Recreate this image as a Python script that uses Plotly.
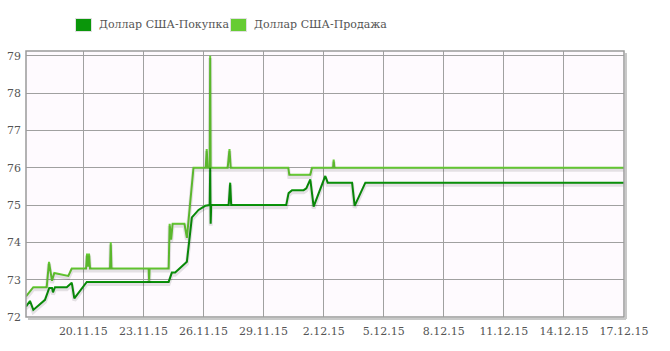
import plotly.graph_objects as go

# ---- data ----
buy_dates = [
    "2015-11-17 03:15", "2015-11-17 08:00", "2015-11-17 12:00", "2015-11-18 02:00",
    "2015-11-18 07:10", "2015-11-18 10:25", "2015-11-18 11:35", "2015-11-18 14:00",
    "2015-11-19 04:05", "2015-11-19 10:05", "2015-11-19 13:10", "2015-11-20 04:05",
    "2015-11-24 06:15", "2015-11-24 10:05", "2015-11-24 14:00", "2015-11-25 04:05",
    "2015-11-25 10:05", "2015-11-25 18:00", "2015-11-26 02:00", "2015-11-26 07:25",
    "2015-11-26 08:00", "2015-11-26 08:35", "2015-11-26 09:15", "2015-11-27 06:10",
    "2015-11-27 08:00", "2015-11-27 09:10", "2015-11-30 03:10", "2015-11-30 06:00",
    "2015-11-30 10:05", "2015-12-01 00:00", "2015-12-01 03:15", "2015-12-01 08:00",
    "2015-12-01 12:00", "2015-12-02 02:00", "2015-12-02 04:50", "2015-12-03 10:05",
    "2015-12-03 13:10", "2015-12-04 02:00", "2015-12-17 00:00",
]
buy_values = [
    72.28, 72.43, 72.19, 72.46,
    72.78, 72.78, 72.66, 72.80,
    72.80, 72.92, 72.50, 72.94,
    72.94, 73.19, 73.19, 73.48,
    74.67, 74.87, 74.98, 75.00,
    76.00, 74.50, 75.00, 75.00,
    75.60, 75.00, 75.00, 75.32,
    75.40, 75.40, 75.45, 75.69,
    74.96, 75.78, 75.60, 75.60,
    74.98, 75.60, 75.60,
]

sell_dates = [
    "2015-11-17 03:15", "2015-11-17 12:00", "2015-11-18 04:05", "2015-11-18 06:50",
    "2015-11-18 10:25", "2015-11-18 13:10", "2015-11-19 06:00", "2015-11-19 10:05",
    "2015-11-20 03:15", "2015-11-20 04:25", "2015-11-20 05:35", "2015-11-20 06:50",
    "2015-11-20 08:00", "2015-11-21 08:00", "2015-11-21 08:50", "2015-11-21 09:40",
    "2015-11-23 06:10", "2015-11-23 06:50", "2015-11-23 07:25", "2015-11-24 06:15",
    "2015-11-24 07:25", "2015-11-24 09:15", "2015-11-24 11:00", "2015-11-25 01:10",
    "2015-11-25 04:05", "2015-11-25 05:35", "2015-11-25 12:00", "2015-11-26 02:40",
    "2015-11-26 03:50", "2015-11-26 05:00", "2015-11-26 07:25", "2015-11-26 08:00",
    "2015-11-26 08:35", "2015-11-27 05:00", "2015-11-27 07:10", "2015-11-27 08:35",
    "2015-11-30 05:35", "2015-11-30 06:50", "2015-12-01 08:00", "2015-12-01 10:05",
    "2015-12-02 11:20", "2015-12-02 12:00", "2015-12-02 12:50", "2015-12-17 00:00",
]
sell_values = [
    72.55, 72.80, 72.80, 73.48,
    72.97, 73.18, 73.10, 73.30,
    73.30, 73.70, 73.35, 73.70,
    73.30, 73.30, 74.00, 73.30,
    73.30, 72.97, 73.30, 73.30,
    74.50, 74.07, 74.50, 74.50,
    74.12, 74.50, 76.00, 76.00,
    76.50, 76.00, 76.00, 79.00,
    76.00, 76.00, 76.50, 76.00,
    76.00, 75.81, 75.81, 76.00,
    76.00, 76.22, 76.00, 76.00,
]

tick_dates = ["2015-11-20", "2015-11-23", "2015-11-26", "2015-11-29", "2015-12-02",
              "2015-12-05", "2015-12-08", "2015-12-11", "2015-12-14", "2015-12-17"]
tick_labels = ["20.11.15", "23.11.15", "26.11.15", "29.11.15", "2.12.15",
               "5.12.15", "8.12.15", "11.12.15", "14.12.15", "17.12.15"]
y_ticks = [72, 73, 74, 75, 76, 77, 78, 79]

series_names = ["Доллар США-Покупка", "Доллар США-Продажа"]
buy_color = "#0a960a"
sell_color = "#66cc33"

x_range = ["2015-11-17 03:15", "2015-12-17 00:00"]
y_range = [72, 79.13]
shadow_shift = 0.055

# plot-area geometry in pixels
W, H = 670, 351
PL, PR, PT, PB = 26, 624, 51, 317


def px_x(p):
    return (p - PL) / (PR - PL)


def px_y(p):
    return (PB - p) / (PB - PT)


fig = go.Figure()

# shadows (drawn on an overlaying axis shifted slightly down)
for d, v in ((sell_dates, sell_values), (buy_dates, buy_values)):
    fig.add_trace(go.Scatter(x=d, y=v, mode="lines", yaxis="y2",
                             line=dict(color="rgba(0,0,0,0.10)", width=4),
                             showlegend=False, hoverinfo="skip"))

fig.add_trace(go.Scatter(x=sell_dates, y=sell_values, mode="lines",
                         line=dict(color=sell_color, width=2), showlegend=False))
fig.add_trace(go.Scatter(x=buy_dates, y=buy_values, mode="lines",
                         line=dict(color=buy_color, width=2), showlegend=False))

font_family = "DejaVu Serif"
text_color = "#545454"

# manual legend (box + label)
legend_boxes = [(76, 91), (231, 246)]
legend_text_x = [97, 252]
shapes = []
annotations = []
for (bx0, bx1), tx, name, col in zip(legend_boxes, legend_text_x, series_names,
                                     (buy_color, sell_color)):
    shapes.append(dict(type="rect", xref="paper", yref="paper",
                       x0=px_x(bx0 - 1), x1=px_x(bx1 + 1), y0=px_y(32), y1=px_y(18),
                       line=dict(width=0), fillcolor="#e0e0e0", layer="above"))
    shapes.append(dict(type="rect", xref="paper", yref="paper",
                       x0=px_x(bx0), x1=px_x(bx1), y0=px_y(31), y1=px_y(19),
                       line=dict(width=0), fillcolor=col, layer="above"))
    annotations.append(dict(text=name, xref="paper", yref="paper", x=px_x(tx), y=px_y(25),
                            xanchor="left", yanchor="middle", showarrow=False,
                            font=dict(family=font_family, size=11, color=text_color)))

# frame
shapes += [
    dict(type="rect", xref="paper", yref="paper", x0=0, x1=1, y0=0, y1=1,
         line=dict(color="#9a9a9a", width=1.5), layer="above"),
    dict(type="line", xref="paper", yref="paper", x0=px_x(PR + 2), x1=px_x(PR + 2),
         y0=px_y(PB + 2), y1=px_y(PT + 2),
         line=dict(color="#c8c8c8", width=2), layer="above"),
    dict(type="line", xref="paper", yref="paper", x0=px_x(PL + 2), x1=px_x(PR + 2),
         y0=px_y(PB + 2), y1=px_y(PB + 2),
         line=dict(color="#c8c8c8", width=2), layer="above"),
]

fig.update_layout(
    width=W, height=H,
    margin=dict(l=PL, r=W - PR, t=PT, b=H - PB, autoexpand=False),
    paper_bgcolor="white",
    plot_bgcolor="#fefafe",
    font=dict(family=font_family, size=11, color=text_color),
    showlegend=False,
    xaxis=dict(type="date", range=x_range, tickmode="array", tickvals=tick_dates,
               ticktext=tick_labels, showgrid=True, gridcolor="#a0a0a0", gridwidth=1,
               zeroline=False, showline=False, ticks="", automargin=False,
               ticklabelstandoff=6, tickfont=dict(size=11)),
    yaxis=dict(range=y_range, tickmode="array", tickvals=y_ticks,
               showgrid=True, gridcolor="#a0a0a0", gridwidth=1, zeroline=False,
               showline=False, ticks="", automargin=False, ticklabelstandoff=4,
               tickfont=dict(size=11)),
    yaxis2=dict(range=[y_range[0] + shadow_shift, y_range[1] + shadow_shift],
                overlaying="y", visible=False),
    shapes=shapes,
    annotations=annotations,
)

fig.write_html("out.html")
